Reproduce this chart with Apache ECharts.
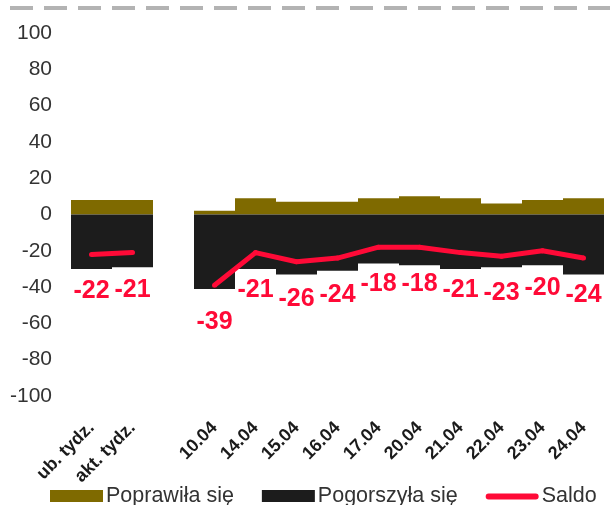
<!DOCTYPE html>
<html>
<head>
<meta charset="utf-8">
<script src="https://cdn.jsdelivr.net/npm/echarts@6/dist/echarts.min.js"></script>
<style>
  html, body { margin: 0; padding: 0; background: #ffffff; }
  #chart { width: 610px; height: 505px; }
</style>
</head>
<body>
<div id="chart"></div>
<script>
// categories (empty slot separates weekly and daily readings)
var categories = ['ub. tydz.', 'akt. tydz.', '', '10.04', '14.04', '15.04', '16.04', '17.04', '20.04', '21.04', '22.04', '23.04', '24.04']
var poprawila = [8, 8, null, 2, 9, 7, 7, 9, 10, 9, 6, 8, 9]
var pogorszyla = [-30, -29, null, -41, -30, -33, -31, -27, -28, -30, -29, -28, -33]
var saldo = [-22, -21, null, -39, -21, -26, -24, -18, -18, -21, -23, -20, -24]
var yTicks = [-100, -80, -60, -40, -20, 0, 20, 40, 60, 80, 100]

var chart = echarts.init(document.getElementById('chart'))

// thin rounded bar inside the full legend box, so the Saldo key looks like a line
var lineIcon = 'path://M0,0 M54,12 M3,3.5 L51,3.5 A3,3 0 0 1 51,9.5 L3,9.5 A3,3 0 0 1 3,3.5 Z'

chart.setOption({
  animation: false,
  backgroundColor: '#ffffff',
  textStyle: { fontFamily: 'Liberation Sans, Arial, sans-serif' },
  graphic: [{
    type: 'line',
    shape: { x1: 10, y1: 8, x2: 610, y2: 8 },
    style: { stroke: '#b3b3b3', lineWidth: 4, lineDash: [23, 11] }
  }],
  grid: { left: 71, right: 6, top: 33, bottom: 109 },
  legend: {
    bottom: -7,
    left: 45,
    itemWidth: 53,
    itemHeight: 12,
    itemGap: 28,
    textStyle: { fontSize: 21.5, color: '#333333', padding: [0, 0, 0, -2] },
    data: [
      { name: 'Poprawiła się', icon: 'rect' },
      { name: 'Pogorszyła się', icon: 'rect' },
      { name: 'Saldo', icon: lineIcon, itemStyle: { color: '#ff0a37' } }
    ]
  },
  xAxis: {
    type: 'category',
    data: categories,
    axisLine: { show: false },
    axisTick: { show: false },
    axisLabel: {
      rotate: 45,
      interval: 0,
      margin: 29,
      fontSize: 18,
      fontWeight: 'bold',
      color: '#1a1a1a'
    }
  },
  yAxis: {
    type: 'value',
    min: yTicks[0],
    max: yTicks[yTicks.length - 1],
    interval: 20,
    splitLine: { show: false },
    axisLine: { show: false },
    axisTick: { show: false },
    axisLabel: { fontSize: 21, color: '#333333', margin: 19 }
  },
  series: [
    {
      name: 'Poprawiła się',
      type: 'bar',
      stack: 'all',
      barCategoryGap: '0%',
      data: poprawila,
      itemStyle: { color: '#7f6a00' }
    },
    {
      name: 'Pogorszyła się',
      type: 'bar',
      stack: 'all',
      barCategoryGap: '0%',
      data: pogorszyla,
      itemStyle: { color: '#1c1c1c' }
    },
    {
      name: 'Saldo',
      type: 'line',
      data: saldo,
      connectNulls: false,
      symbol: 'circle',
      symbolSize: 5,
      itemStyle: { color: '#ff0a37' },
      lineStyle: { color: '#ff0a37', width: 5 },
      label: {
        show: true,
        position: 'bottom',
        distance: 22,
        fontSize: 25,
        fontWeight: 'bold',
        color: '#ff0a37'
      },
      z: 5
    }
  ]
})
</script>
</body>
</html>
